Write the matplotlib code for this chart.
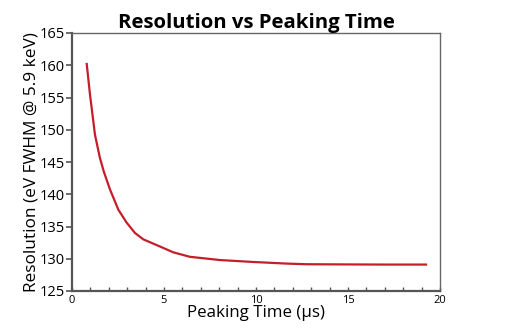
import matplotlib
matplotlib.use("Agg")
import matplotlib.pyplot as plt
from matplotlib.ticker import MultipleLocator

peaking_time = [0.80, 0.98, 1.25, 1.52, 1.73, 2.07, 2.52, 2.97, 3.42, 3.88, 4.78, 5.50,
                6.41, 8.04, 9.85, 11.67, 12.75, 15.0, 17.0, 19.24]
resolution = [160.2, 155.4, 149.2, 145.6, 143.5, 140.7, 137.6, 135.6, 134.0, 133.0, 131.9,
              131.0, 130.3, 129.8, 129.5, 129.25, 129.15, 129.12, 129.1, 129.1]

plt.rcParams['font.family'] = ['Open Sans', 'DejaVu Sans']

fig = plt.figure(figsize=(5.12, 3.32), dpi=100)
ax = fig.add_axes([72 / 512, 1 - 291 / 332, 368 / 512, 258 / 332])

ax.plot(peaking_time, resolution, color='#c41e2a', lw=1.6, solid_joinstyle='round')

ax.set_xlim(0, 20)
ax.set_ylim(125, 165)
ax.xaxis.set_major_locator(MultipleLocator(5))
ax.xaxis.set_minor_locator(MultipleLocator(1))
ax.yaxis.set_major_locator(MultipleLocator(5))

for side in ('left', 'bottom'):
    ax.spines[side].set_color('#555555')
    ax.spines[side].set_linewidth(1.6)
for side in ('top', 'right'):
    ax.spines[side].set_color('#666666')
    ax.spines[side].set_linewidth(1.0)

ax.tick_params(axis='y', direction='out', length=4, width=1.2, color='#555555',
               labelsize=10.5, pad=1)
ax.tick_params(axis='x', which='both', direction='in', length=3, width=1.0,
               color='#555555', labelsize=8, pad=3)

ax.set_title('Resolution vs Peaking Time', fontsize=14.7, fontweight='bold', pad=3)
ax.set_xlabel('Peaking Time (µs)', fontsize=12.2, labelpad=-1)
ax.set_ylabel('Resolution (eV FWHM @ 5.9 keV)', fontsize=12.4, labelpad=0)

fig.savefig('out.png', dpi=100)
